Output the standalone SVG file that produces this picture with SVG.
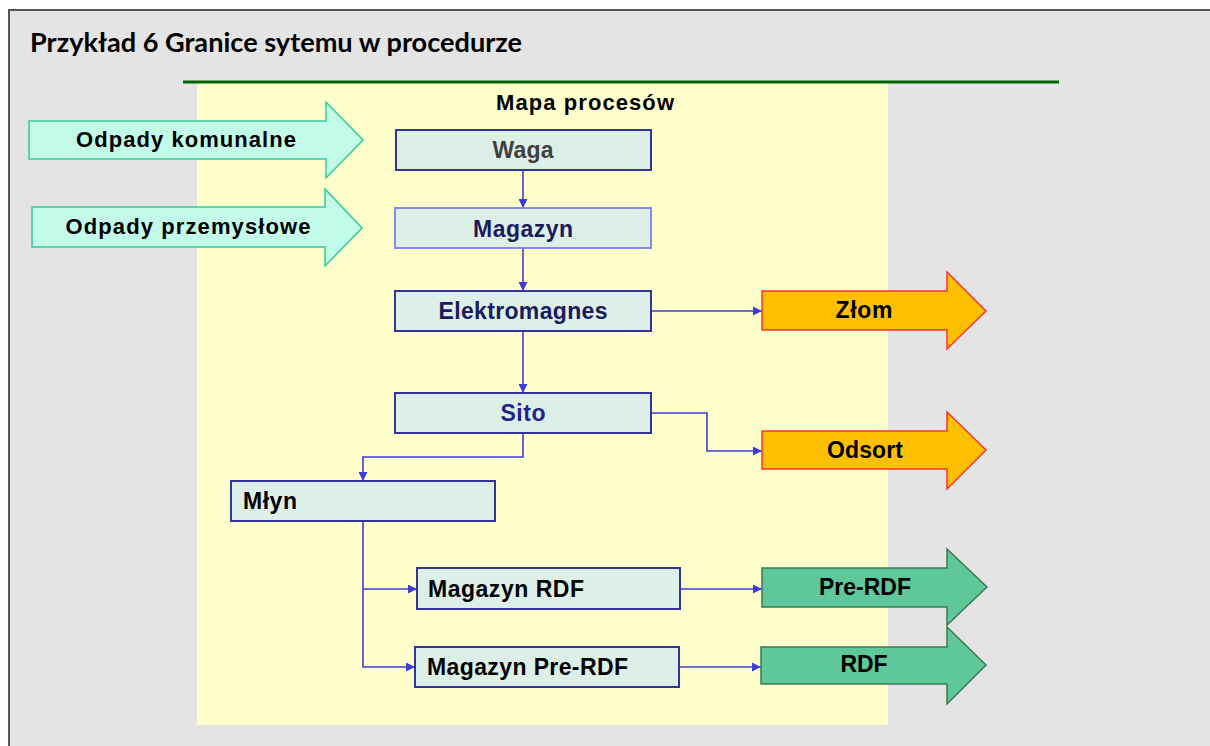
<svg xmlns="http://www.w3.org/2000/svg" width="1210" height="746" viewBox="0 0 1210 746">
<style>
.box{fill:#dcf0e8;stroke:#333399;stroke-width:2}
.lbl{font-family:"Liberation Sans",Arial,sans-serif;font-weight:bold;font-size:23px}
.in{fill:#c2fbe8;stroke:#33cc99;stroke-width:1.5}
.out{fill:#ffc000;stroke:#ff3333;stroke-width:1.5}
.grn{fill:#5ec89a;stroke:#3a7a50;stroke-width:1.5}
.con{fill:none;stroke:#3d3dd6;stroke-width:1.6}
</style>
<defs>
<marker id="ah" viewBox="0 0 10 10" refX="10" refY="5" markerWidth="9" markerHeight="9" markerUnits="userSpaceOnUse" orient="auto">
<path d="M0,0 L10,5 L0,10 z" fill="#3d3dd6"/>
</marker>
</defs>
<rect x="9" y="10" width="1210" height="745" fill="#e4e4e4" stroke="#555555" stroke-width="2"/>
<text x="30" y="52" font-family="Lato,'Open Sans',sans-serif" font-weight="bold" font-size="26" fill="#000" textLength="492" lengthAdjust="spacingAndGlyphs">Przykład 6 Granice sytemu w procedurze</text>
<rect x="197" y="83" width="691" height="642" fill="#ffffcc"/>
<line x1="183" y1="82" x2="1059" y2="82" stroke="#006400" stroke-width="3"/>
<text x="585" y="110" text-anchor="middle" class="lbl" style="font-size:22px" textLength="178" lengthAdjust="spacing">Mapa procesów</text>

<g id="connectors">
<path class="con" d="M523,170 V208" marker-end="url(#ah)"/>
<path class="con" d="M523,248 V291" marker-end="url(#ah)"/>
<path class="con" d="M651,311 H762" marker-end="url(#ah)"/>
<path class="con" d="M523,331 V393" marker-end="url(#ah)"/>
<path class="con" d="M651,413 H707 V451 H762" marker-end="url(#ah)"/>
<path class="con" d="M523,433 V457 H363 V481" marker-end="url(#ah)"/>
<path class="con" d="M363,521 V667 H415" marker-end="url(#ah)"/>
<path class="con" d="M363,589 H417" marker-end="url(#ah)"/>
<path class="con" d="M680,589 H762" marker-end="url(#ah)"/>
<path class="con" d="M679,667 H761" marker-end="url(#ah)"/>
</g>

<g id="odpady-komunalne">
<polygon class="in" points="29,121 326,121 326,102 363,140 326,178 326,159 29,159"/>
<text x="186" y="147" text-anchor="middle" class="lbl" style="font-size:22px" textLength="220" lengthAdjust="spacing">Odpady komunalne</text>
</g>
<g id="odpady-przemyslowe">
<polygon class="in" points="32,207 325,207 325,189 362,228 325,266 325,247 32,247"/>
<text x="188" y="234" text-anchor="middle" class="lbl" style="font-size:22px" textLength="245" lengthAdjust="spacing">Odpady przemysłowe</text>
</g>
<g id="waga">
<rect class="box" x="396" y="130" width="255" height="40"/>
<text x="523" y="158" text-anchor="middle" class="lbl" fill="#404040" textLength="61" lengthAdjust="spacing">Waga</text>
</g>
<g id="magazyn">
<rect class="box" x="395" y="208" width="256" height="40" style="stroke:#8888ee"/>
<text x="523" y="237" text-anchor="middle" class="lbl" fill="#1a1a5e" textLength="100" lengthAdjust="spacing">Magazyn</text>
</g>
<g id="elektromagnes">
<rect class="box" x="395" y="291" width="256" height="40"/>
<text x="523" y="319" text-anchor="middle" class="lbl" fill="#1a1a5e" textLength="169" lengthAdjust="spacing">Elektromagnes</text>
</g>
<g id="sito">
<rect class="box" x="395" y="393" width="256" height="40"/>
<text x="523" y="421" text-anchor="middle" class="lbl" fill="#24248a" textLength="45" lengthAdjust="spacing">Sito</text>
</g>
<g id="zlom">
<polygon class="out" points="762,291 947,291 947,272 986,311 947,349 947,330 762,330"/>
<text x="864" y="318" text-anchor="middle" class="lbl" fill="#000" textLength="57" lengthAdjust="spacing">Złom</text>
</g>
<g id="odsort">
<polygon class="out" points="762,431 947,431 947,412 986,450 947,489 947,469 762,469"/>
<text x="865" y="458" text-anchor="middle" class="lbl" fill="#000" textLength="76" lengthAdjust="spacing">Odsort</text>
</g>
<g id="mlyn">
<rect class="box" x="231" y="481" width="264" height="40"/>
<text x="243" y="509" class="lbl" fill="#000" textLength="54" lengthAdjust="spacing">Młyn</text>
</g>
<g id="magazyn-rdf">
<rect class="box" x="417" y="568" width="263" height="41"/>
<text x="428" y="597" class="lbl" fill="#000" textLength="156" lengthAdjust="spacing">Magazyn RDF</text>
</g>
<g id="magazyn-pre-rdf">
<rect class="box" x="415" y="647" width="264" height="40"/>
<text x="427" y="675" class="lbl" fill="#000" textLength="201" lengthAdjust="spacing">Magazyn Pre-RDF</text>
</g>
<g id="pre-rdf">
<polygon class="grn" points="762,568 947,568 947,549 987,587 947,625 947,607 762,607"/>
<text x="865" y="595" text-anchor="middle" class="lbl" fill="#000" textLength="92" lengthAdjust="spacing">Pre-RDF</text>
</g>
<g id="rdf">
<polygon class="grn" points="761,647 947,647 947,627 986,665 947,704 947,684 761,684"/>
<text x="864" y="672" text-anchor="middle" class="lbl" fill="#000" textLength="47" lengthAdjust="spacing">RDF</text>
</g>
</svg>
